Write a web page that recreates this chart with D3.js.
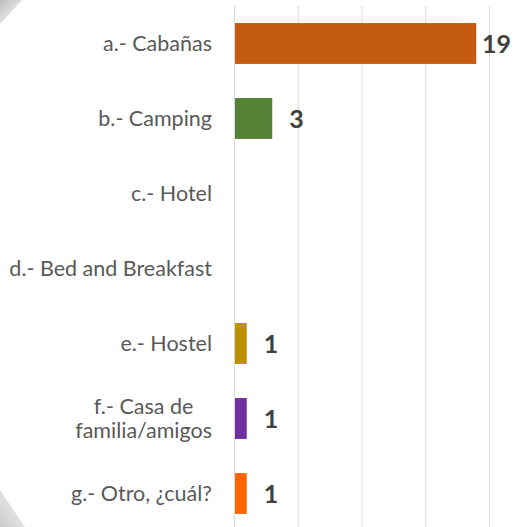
<!DOCTYPE html>
<html><head><meta charset="utf-8">
<script src="https://cdn.jsdelivr.net/npm/d3@7/dist/d3.min.js"></script>
<style>html,body{margin:0;padding:0;background:#fff;}svg{display:block;}</style>
</head><body>
<svg id="chart" width="515" height="527"></svg>
<script>
const categories = ["a.- Cabañas","b.- Camping","c.- Hotel","d.- Bed and Breakfast","e.- Hostel","f.- Casa de|familia/amigos","g.- Otro, ¿cuál?"];
const values = [19, 3, 0, 0, 1, 1, 1];
const colors = ["#C55A11","#548235","#A5A5A5","#4472C4","#BF9000","#7030A0","#FF6600"];
const xTicks = [0, 5, 10, 15, 20];

const W = 515, H = 527;
const svg = d3.select("#chart");
const defs = svg.append("defs");
const g1 = defs.append("linearGradient").attr("id","wm1").attr("x1","0").attr("y1","0").attr("x2","1").attr("y2","1");
g1.append("stop").attr("offset","0").attr("stop-color","#bdbdbd");
g1.append("stop").attr("offset","1").attr("stop-color","#ffffff");
const g2 = defs.append("linearGradient").attr("id","wm2").attr("x1","0").attr("y1","1").attr("x2","1").attr("y2","0");
g2.append("stop").attr("offset","0").attr("stop-color","#cccccc");
g2.append("stop").attr("offset","1").attr("stop-color","#f6f6f6");
svg.append("path").attr("d","M0,0 L22,0 L0,24 Z").attr("fill","url(#wm1)");
svg.append("path").attr("d","M0,490 L25,527 L0,527 Z").attr("fill","url(#wm2)");

const x = d3.scaleLinear().domain([0, 20]).range([234, 489]);
const y = d3.scaleBand().domain(categories).range([6, 531]).paddingInner(0.455).paddingOuter(0.2275);

// gridlines
svg.append("g").selectAll("line").data(xTicks).join("line")
  .attr("x1", d => x(d) + 0.5).attr("x2", d => x(d) + 0.5)
  .attr("y1", 6).attr("y2", H)
  .attr("stroke", "#d9d9d9").attr("stroke-width", 1);

// bars
svg.append("g").selectAll("rect").data(values.map((v,i)=>({v,i}))).join("rect")
  .filter(d => d.v > 0)
  .attr("x", x(0) + 1).attr("y", d => y(categories[d.i]))
  .attr("width", d => x(d.v) - x(0) - 1).attr("height", y.bandwidth())
  .attr("fill", d => colors[d.i]);

// value labels
svg.append("g").selectAll("text").data(values.map((v,i)=>({v,i})).filter(d=>d.v>0)).join("text")
  .attr("x", d => Math.min(x(d.v) + 17, W - 33))
  .attr("y", d => y(categories[d.i]) + y.bandwidth()/2)
  .attr("dy", "0.36em")
  .attr("font-family", "Lato, 'Open Sans', sans-serif")
  .attr("font-weight", "bold").attr("font-size", 25)
  .attr("fill", "#404040")
  .text(d => d.v);

// category labels
const labG = svg.append("g");
categories.forEach((c, i) => {
  const lines = c.split("|");
  const cy = y(c) + y.bandwidth()/2;
  lines.forEach((ln, k) => {
    const t = labG.append("text")
      .attr("class", "lab" + i)
      .attr("font-family", "Lato, 'Open Sans', sans-serif")
      .attr("font-size", 21.5).attr("fill", "#595959")
      .attr("y", cy + (k - (lines.length-1)/2) * 24)
      .attr("dy","0.35em").text(ln);
  });
  const ts = labG.selectAll(".lab" + i);
  if (lines.length === 1) {
    ts.attr("text-anchor","end").attr("x", 212);
  } else {
    const mw = Math.max(...ts.nodes().map(n => n.getComputedTextLength()));
    ts.attr("text-anchor","middle").attr("x", 212 - mw/2);
  }
});
</script>
</body></html>
